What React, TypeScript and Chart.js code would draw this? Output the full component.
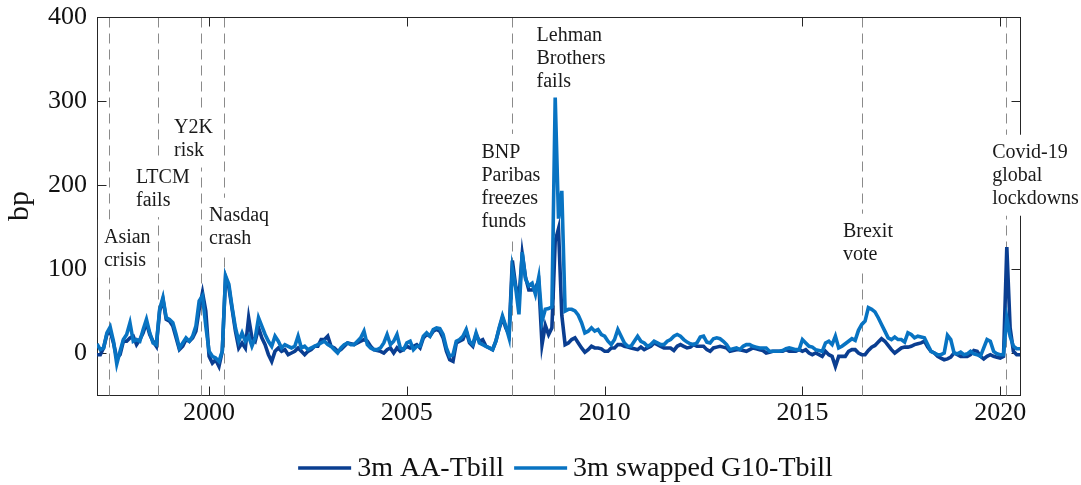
import { useEffect, useRef } from "react";
import { Chart, registerables } from "chart.js";

Chart.register(...registerables);

// Monthly observations, end of month, starting February 1997
const START_YEAR = 1997;
const START_MONTH = 2;

const AA_TBILL = [
  -2, -2, 6, 22, 26, 12, -6, -2, 14, 14,
  18, 20, 10, 16, 24, 36, 22, 14, 8, 50,
  64, 40, 38, 32, 18, 4, 8, 16, 14, 18,
  26, 52, 72, 50, -4, -12, -8, -16, 2, 90,
  78, 52, 26, 6, 12, 6, 42, 18, 14, 30,
  18, 10, -2, -10, 2, 6, 2, 4, -2, 0,
  2, 6, 2, -2, 2, 4, 8, 8, 16, 16,
  20, 8, 6, 2, 4, 8, 12, 11, 10, 12,
  14, 16, 14, 8, 4, 3, 2, 0, 4, 6,
  0, 6, 2, 4, 8, 6, 8, 10, 6, 18,
  22, 20, 26, 28, 26, 18, 2, -8, -10, 12,
  14, 16, 26, 12, 8, 22, 14, 16, 8, 6,
  4, 14, 29, 42, 30, 22, 110, 80, 65, 118,
  90, 75, 75, 78, 85, 10, 33, 22, 30, 133,
  148, 45, 10, 12, 16, 18, 12, 6, 1, 4,
  8, 6, 6, 5, 2, 2, 6, 6, 10, 10,
  8, 7, 6, 5, 4, 7, 4, 6, 8, 12,
  10, 8, 6, 6, 6, 3, 8, 10, 8, 6,
  7, 10, 8, 8, 8, 4, 2, 6, 7, 8,
  7, 6, 2, 3, 4, 4, 3, 2, 4, 6,
  5, 4, 3, 0, 1, 2, 2, 2, 2, 4,
  2, 2, 2, 4, 2, 4, 0, -2, 0, -2,
  -4, 2, -2, -4, -16, -4, -4, -4, 2, 4,
  4, 0, -2, -2, 3, 7, 9, 13, 17, 14,
  9, 4, 0, 3, 6, 7, 7, 8, 10, 11,
  12, 14, 7, 2, 0, -4, -6, -8, -7, -5,
  0, -2, -4, -4, -4, -2, 3, 2, -4, -7,
  -4, -2, -4, -5, -6, -4, 126, 30, 2, -2,
  -2,
];

const G10_TBILL = [
  11, 4, 6, 24, 31, 14, -13, 2, 16, 22,
  36, 14, 16, 14, 28, 40, 24, 12, 10, 52,
  66, 42, 40, 36, 22, 6, 12, 18, 14, 20,
  32, 62, 68, 32, 2, -4, -6, -10, 2, 92,
  82, 54, 30, 14, 24, 14, 20, 8, 18, 42,
  32, 22, 14, 8, 20, 14, 6, 10, 8, 6,
  8, 20, 6, 8, 4, 6, 8, 10, 12, 14,
  10, 8, 4, 0, 6, 10, 12, 10, 10, 14,
  18, 26, 10, 6, 4, 4, 6, 12, 22, 10,
  14, 22, 6, 4, 12, 14, 4, 8, 8, 20,
  24, 20, 28, 30, 29, 22, 6, -4, -2, 14,
  16, 20, 28, 14, 10, 24, 12, 10, 8, 6,
  4, 14, 30, 44, 32, 18, 100, 78, 46, 120,
  88, 80, 83, 70, 90, 38, 52, 53, 55, 304,
  160, 193, 50, 52, 52, 50, 45, 36, 24, 26,
  30, 26, 28, 22, 20, 14, 10, 16, 28, 20,
  12, 8, 8, 14, 20, 14, 12, 8, 10, 14,
  12, 10, 10, 14, 16, 20, 22, 20, 16, 13,
  11, 10, 12, 19, 20, 13, 12, 17, 18, 17,
  14, 10, 4, 5, 6, 4, 8, 10, 10, 8,
  7, 6, 6, 6, 2, 2, 2, 2, 3, 5,
  6, 5, 4, 4, 16, 12, 8, 7, 4, 3,
  2, 12, 14, 10, 20, 6, 8, 11, 14, 17,
  15, 27, 34, 38, 54, 52, 49, 42, 34, 26,
  18, 16, 19, 16, 16, 13, 24, 22, 18, 20,
  19, 18, 10, 2, 0, -2, -2, 0, 21, 16,
  0, -1, 1, -2, -1, 2, -1, -2, -4, 6,
  16, 14, 2, -1, -2, -2, 42, 20, 8, 5,
  5,
];

const SERIES_NAMES = ["3m AA-Tbill", "3m swapped G10-Tbill"];
const X_TICKS = [2000, 2005, 2010, 2015, 2020];
const Y_TICKS = [0, 100, 200, 300, 400];

const EVENT_DATES = [1997.47, 1998.71, 1999.79, 2000.37, 2007.65, 2008.73, 2016.51, 2020.15];
const EVENT_LABELS = [
  ["Asian", "crisis"],
  ["LTCM", "fails"],
  ["Y2K", "risk"],
  ["Nasdaq", "crash"],
  ["BNP", "Paribas", "freezes", "funds"],
  ["Lehman", "Brothers", "fails"],
  ["Brexit", "vote"],
  ["Covid-19", "global", "lockdowns"],
];
const LABEL_X = [1997.342, 1998.152, 1999.114, 2000.0, 2006.886, 2008.278, 2016.025, 2019.797];
const LABEL_Y = [138, 210, 269, 164, 240, 379, 145, 239];

const DARK = "rgb(10,62,145)";
const LIGHT = "rgb(8,115,194)";
const SERIF = '"Liberation Serif", "Times New Roman", serif';

const toDate = (i: number) => START_YEAR + (START_MONTH + i) / 12;

const decorPlugin = {
  id: "decor",
  beforeDatasetsDraw(chart: any) {
    const { ctx, chartArea: a, scales } = chart;
    const x = scales.x;
    const y = scales.y;
    const L = Math.round(a.left) + 0.5;
    const T = Math.round(a.top) + 0.5;
    const R = Math.round(a.right) + 0.5;
    const B = Math.round(a.bottom) + 0.5;
    ctx.save();
    // frame
    ctx.strokeStyle = "#262626";
    ctx.lineWidth = 1;
    ctx.strokeRect(L, T, R - L, B - T);
    // inside ticks
    const tl = 9;
    ctx.beginPath();
    X_TICKS.forEach((v) => {
      const px = Math.round(x.getPixelForValue(v)) + 0.5;
      ctx.moveTo(px, B);
      ctx.lineTo(px, B - tl);
      ctx.moveTo(px, T);
      ctx.lineTo(px, T + tl);
    });
    Y_TICKS.forEach((v) => {
      const py = Math.round(y.getPixelForValue(v)) + 0.5;
      ctx.moveTo(L, py);
      ctx.lineTo(L + tl, py);
      ctx.moveTo(R, py);
      ctx.lineTo(R - tl, py);
    });
    ctx.stroke();
    // event lines
    ctx.strokeStyle = "#8a8a8a";
    ctx.setLineDash([10, 6]);
    EVENT_DATES.forEach((d) => {
      const px = Math.round(x.getPixelForValue(d)) + 0.5;
      ctx.beginPath();
      ctx.moveTo(px, T);
      ctx.lineTo(px, B);
      ctx.stroke();
    });
    ctx.setLineDash([]);
    // event labels
    ctx.font = "20px " + SERIF;
    ctx.textBaseline = "middle";
    ctx.textAlign = "left";
    const lh = 23;
    EVENT_LABELS.forEach((lines, k) => {
      const lx = x.getPixelForValue(LABEL_X[k]);
      const ly = y.getPixelForValue(LABEL_Y[k]);
      const w = Math.max(...lines.map((s) => ctx.measureText(s).width));
      const pad = 6;
      ctx.fillStyle = "#fff";
      ctx.fillRect(lx - pad, ly - lh / 2 - pad, w + 2 * pad, lh * lines.length + 2 * pad);
      ctx.fillStyle = "#1a1a1a";
      lines.forEach((s, j) => ctx.fillText(s, lx, ly + j * lh + 1));
    });
    // top edge of the frame stays visible above the labels
    ctx.strokeStyle = "#262626";
    ctx.beginPath();
    ctx.moveTo(L, T);
    ctx.lineTo(R, T);
    ctx.stroke();
    ctx.restore();
  },
  afterDraw(chart: any) {
    const { ctx, chartArea: a } = chart;
    ctx.save();
    ctx.font = "28px " + SERIF;
    ctx.textBaseline = "middle";
    const lineLen = 53;
    const gap = 6;
    const itemGap = 10;
    const colors = [DARK, LIGHT];
    const widths = SERIES_NAMES.map((s) => ctx.measureText(s).width);
    const total = widths.reduce((s, w) => s + lineLen + gap + w, 0) + itemGap;
    let cx = (a.left + a.right) / 2 + 7 - total / 2;
    const cy = 468;
    SERIES_NAMES.forEach((s, k) => {
      ctx.strokeStyle = colors[k];
      ctx.lineWidth = 3.6;
      ctx.beginPath();
      ctx.moveTo(cx, cy);
      ctx.lineTo(cx + lineLen, cy);
      ctx.stroke();
      ctx.fillStyle = "#111";
      ctx.fillText(s, cx + lineLen + gap, cy + 1);
      cx += lineLen + gap + widths[k] + itemGap;
    });
    ctx.restore();
  },
};

export default function App() {
  const ref = useRef<HTMLCanvasElement | null>(null);
  useEffect(() => {
    if (!ref.current) return;
    const chart = new Chart(ref.current, {
      type: "line",
      data: {
        datasets: [
          {
            label: SERIES_NAMES[0],
            data: AA_TBILL.map((v, i) => ({ x: toDate(i), y: v })),
            borderColor: DARK,
            backgroundColor: DARK,
            borderWidth: 3.6,
            pointRadius: 0,
            tension: 0,
            order: 2,
          },
          {
            label: SERIES_NAMES[1],
            data: G10_TBILL.map((v, i) => ({ x: toDate(i), y: v })),
            borderColor: LIGHT,
            backgroundColor: LIGHT,
            borderWidth: 3.6,
            pointRadius: 0,
            tension: 0,
            order: 1,
          },
        ],
      },
      options: {
        animation: false,
        responsive: false,
        devicePixelRatio: 1,
        layout: { padding: { top: 17, right: 61, left: 0, bottom: 0 } },
        plugins: { legend: { display: false }, tooltip: { enabled: false } },
        scales: {
          x: {
            type: "linear",
            min: toDate(0),
            max: toDate(AA_TBILL.length - 1),
            grid: { display: false, drawTicks: false },
            border: { display: false },
            afterBuildTicks: (s: any) => {
              s.ticks = X_TICKS.map((v) => ({ value: v }));
            },
            afterFit: (s: any) => {
              s.height = 90;
              s.paddingLeft = 0;
              s.paddingRight = 0;
            },
            ticks: {
              autoSkip: false,
              maxRotation: 0,
              padding: 3,
              color: "#111",
              font: { family: SERIF, size: 26 },
              callback: (v: any) => String(v),
            },
          },
          y: {
            type: "linear",
            min: -50,
            max: 400,
            grid: { display: false, drawTicks: false },
            border: { display: false },
            afterBuildTicks: (s: any) => {
              s.ticks = Y_TICKS.map((v) => ({ value: v }));
            },
            afterFit: (s: any) => {
              s.width = 97;
              s.paddingTop = 0;
              s.paddingBottom = 0;
            },
            ticks: {
              padding: 10,
              color: "#111",
              font: { family: SERIF, size: 26 },
              callback: (v: any) => String(v),
            },
            title: {
              display: true,
              text: "bp",
              color: "#111",
              font: { family: SERIF, size: 30 },
              padding: { top: 2, bottom: 0 },
            },
          },
        },
      },
      plugins: [decorPlugin],
    });
    return () => chart.destroy();
  }, []);
  return (
    <div style={{ position: "fixed", left: 0, top: 0, width: 1081, height: 485, background: "#fff" }}>
      <canvas ref={ref} width={1081} height={485} style={{ display: "block", width: 1081, height: 485 }} />
    </div>
  );
}
